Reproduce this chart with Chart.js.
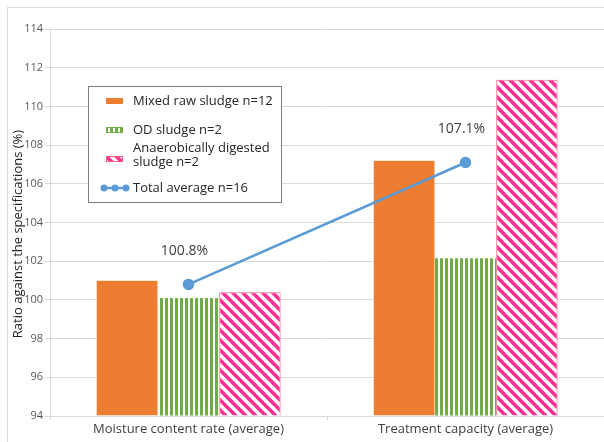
<!DOCTYPE html>
<html>
<head>
<meta charset="utf-8">
<script src="https://cdn.jsdelivr.net/npm/chart.js@4.4.1/dist/chart.umd.min.js"></script>
<style>
  html, body { margin: 0; padding: 0; background: #fff; }
  #wrap { width: 604px; height: 442px; position: relative; }
</style>
</head>
<body>
<div id="wrap"><canvas id="myChart" width="604" height="442"></canvas></div>
<script>
// datos
var categories = ['Moisture content rate (average)', 'Treatment capacity (average)'];
var mixedRaw = [101.0, 107.2];
var odSludge = [100.1, 102.15];
var anaerobic = [100.4, 111.38];
var totalAvg = [100.8, 107.1];
var avgLabels = ['100.8%', '107.1%'];
var seriesNames = ['Mixed raw sludge n=12', 'OD sludge n=2', 'Anaerobically digested|sludge n=2', 'Total average n=16'];
var yTitle = 'Ratio against the specifications (%)';

var FONT = '"Open Sans", "Noto Sans", sans-serif';

// patrones de relleno
function stripesGreen() {
  var c = document.createElement('canvas');
  c.width = 5; c.height = 5;
  var g = c.getContext('2d');
  g.fillStyle = '#fff'; g.fillRect(0, 0, 5, 5);
  g.fillStyle = '#70ad47'; g.fillRect(0, 0, 3, 5);
  return g.createPattern(c, 'repeat');
}
function stripesPink() {
  var s = 10;
  var c = document.createElement('canvas');
  c.width = s; c.height = s;
  var g = c.getContext('2d');
  g.fillStyle = '#fff'; g.fillRect(0, 0, s, s);
  g.strokeStyle = '#ff2e93'; g.lineWidth = 3.6;
  g.beginPath();
  g.moveTo(-s, 0); g.lineTo(s, 2 * s);
  g.moveTo(0, 0); g.lineTo(s, s);
  g.moveTo(0, -s); g.lineTo(2 * s, s);
  g.stroke();
  return g.createPattern(c, 'repeat');
}
var greenPat = stripesGreen();
var pinkPat = stripesPink();

var framePlugin = {
  id: 'frame',
  beforeDraw: function (chart) {
    var ctx = chart.ctx;
    ctx.save();
    ctx.strokeStyle = '#d9d9d9';
    ctx.lineWidth = 1;
    ctx.strokeRect(7.5, 7.5, 700, 600);
    // titulo del eje y, algo desplazado hacia abajo como en la figura
    ctx.translate(18, 234);
    ctx.rotate(-Math.PI / 2);
    ctx.font = '13px ' + FONT;
    ctx.fillStyle = '#262626';
    ctx.textAlign = 'center';
    ctx.textBaseline = 'middle';
    ctx.fillText(yTitle, 0, 0);
    ctx.restore();
  }
};

// etiquetas sobre los puntos del promedio
var labelPlugin = {
  id: 'avgLabels',
  afterDatasetsDraw: function (chart) {
    var ctx = chart.ctx;
    var meta = chart.getDatasetMeta(3);
    ctx.save();
    ctx.font = '14px ' + FONT;
    ctx.fillStyle = '#404040';
    ctx.textAlign = 'center';
    ctx.textBaseline = 'middle';
    meta.data.forEach(function (pt, i) {
      ctx.fillText(avgLabels[i], pt.x - 4, pt.y - 33);
    });
    ctx.restore();
  }
};

// leyenda dibujada a mano (texto en dos lineas)
var legendPlugin = {
  id: 'boxLegend',
  afterDraw: function (chart) {
    var ctx = chart.ctx;
    ctx.save();
    ctx.fillStyle = '#fff';
    ctx.fillRect(88, 86, 194, 116);
    ctx.strokeStyle = '#7f7f7f';
    ctx.lineWidth = 1;
    ctx.strokeRect(88.5, 86.5, 193, 116);
    ctx.font = '13px ' + FONT;
    ctx.fillStyle = '#262626';
    ctx.textBaseline = 'middle';
    ctx.textAlign = 'left';
    var tx = 133;
    // 1
    ctx.fillStyle = '#ed7d31';
    ctx.fillRect(106, 98, 17, 6);
    ctx.fillStyle = '#262626';
    ctx.fillText(seriesNames[0], tx, 101);
    // 2
    ctx.fillStyle = greenPat;
    ctx.fillRect(106, 127, 17, 6);
    ctx.strokeStyle = '#70ad47';
    ctx.strokeRect(106.5, 127.5, 16, 5);
    ctx.fillStyle = '#262626';
    ctx.fillText(seriesNames[1], tx, 130);
    // 3
    ctx.fillStyle = pinkPat;
    ctx.fillRect(106, 156, 17, 6);
    ctx.strokeStyle = '#ff5a7a';
    ctx.strokeRect(106.5, 156.5, 16, 5);
    ctx.fillStyle = '#262626';
    var parts = seriesNames[2].split('|');
    ctx.fillText(parts[0], tx, 148);
    ctx.fillText(parts[1], tx, 162);
    // 4
    ctx.strokeStyle = '#5b9bd5';
    ctx.lineWidth = 2.5;
    ctx.beginPath(); ctx.moveTo(104, 188); ctx.lineTo(126, 188); ctx.stroke();
    ctx.fillStyle = '#5b9bd5';
    [104, 115, 126].forEach(function (x) {
      ctx.beginPath(); ctx.arc(x, 188, 3.5, 0, Math.PI * 2); ctx.fill();
    });
    ctx.fillStyle = '#262626';
    ctx.fillText(seriesNames[3], tx, 188);
    ctx.restore();
  }
};

var chartData = {
  labels: categories,
  datasets: [
    {
      type: 'bar', label: seriesNames[0], data: mixedRaw,
      backgroundColor: '#ed7d31', borderColor: '#f4a26e', borderWidth: 0.5, order: 2
    },
    {
      type: 'bar', label: seriesNames[1], data: odSludge,
      backgroundColor: greenPat, borderWidth: 0, order: 2
    },
    {
      type: 'bar', label: seriesNames[2], data: anaerobic,
      backgroundColor: pinkPat, borderColor: '#ff5a7a', borderWidth: 1, order: 2
    },
    {
      type: 'line', label: seriesNames[3], data: totalAvg,
      borderColor: '#5b9bd5', backgroundColor: '#5b9bd5', borderWidth: 2.5,
      pointRadius: 4.5, pointHoverRadius: 4.5, order: 1
    }
  ]
};

var chartOptions = {
  responsive: false,
  animation: false,
  layout: { autoPadding: false, padding: { left: 8, top: 29, right: 0, bottom: 0 } },
  datasets: { bar: { categoryPercentage: 0.665, barPercentage: 1.0, base: 94 } },
  plugins: { legend: { display: false }, tooltip: { enabled: false } },
  scales: {
    x: {
      grid: { display: true, drawOnChartArea: false, tickLength: 4, color: '#d9d9d9' },
      border: { color: '#d9d9d9' },
      ticks: { color: '#404040', font: { family: FONT, size: 13 }, padding: 1 },
      afterFit: function (scale) {
        scale.height = 26;
        scale.paddingLeft = 0;
        scale.paddingRight = 0;
      }
    },
    y: {
      min: 94, max: 114,
      ticks: { stepSize: 2, color: '#595959', font: { family: FONT, size: 11 }, padding: 2 },
      grid: { color: '#d9d9d9', tickLength: 5 },
      border: { color: '#d9d9d9' },
      afterFit: function (scale) {
        scale.width = 42;
      }
    }
  }
};

var ctx = document.getElementById('myChart').getContext('2d');
var myChart = new Chart(ctx, {
  type: 'bar',
  data: chartData,
  options: chartOptions,
  plugins: [framePlugin, labelPlugin, legendPlugin]
});
</script>
</body>
</html>
